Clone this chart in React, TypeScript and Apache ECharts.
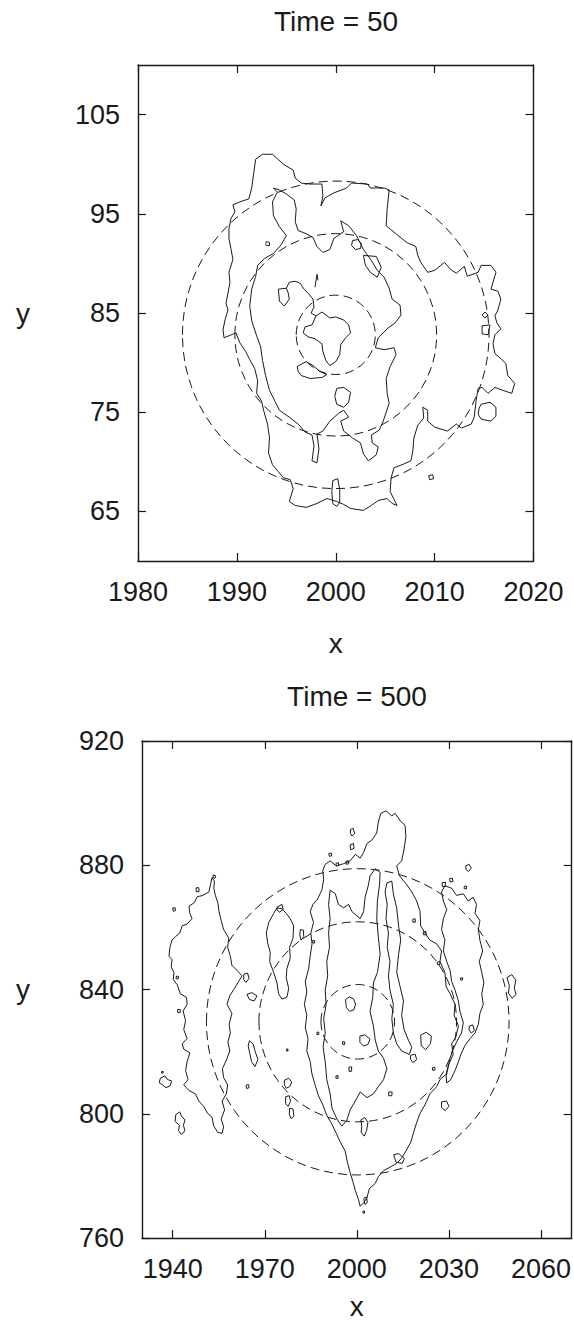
import React, { useEffect, useRef } from "react";
import * as echarts from "echarts";

const FONT = "'Liberation Sans', Arial, Helvetica, sans-serif";
const INK = "#1a1a1a";

// ---------- Panel 1: Time = 50 ----------
const T50_TITLE = "Time = 50";
const T50_X_TICKS = [1980, 1990, 2000, 2010, 2020];
const T50_Y_TICKS = [65, 75, 85, 95, 105];
// circles: [centre x, centre y, radius]
const T50_CIRCLES = [
  [2000, 82.8, 4.0],
  [2000, 82.8, 10.2],
  [2000, 82.8, 15.5],
];
// contours as flat lists x1,y1,x2,y2,...
const T50_OUTER = [
  1989.6,95.9, 1989.8,95.2, 1989.4,94.5, 1989.2,93.5, 1989.2,92.5, 1989.4,91.5, 1989.6,90.4, 1989.2,89.1,
  1989.3,88.1, 1989.1,87.0, 1988.9,86.0, 1989.1,85.3, 1988.8,84.3, 1988.6,83.3, 1988.7,82.5, 1989.2,82.7,
  1989.9,83.0, 1990.3,82.0, 1990.9,81.1, 1991.3,80.3, 1991.8,79.4, 1992.1,78.2, 1992.0,76.9, 1992.5,76.1,
  1992.7,75.2, 1993.1,73.8, 1993.3,72.4, 1993.2,70.9, 1993.6,69.7, 1994.2,69.0, 1994.7,68.4, 1995.4,68.2,
  1995.7,67.3, 1995.3,66.0, 1995.9,65.6, 1997.0,65.4, 1998.1,65.8, 1999.1,66.3, 2000.1,66.0, 2000.8,65.7,
  2001.5,65.3, 2002.8,65.1, 2003.6,65.6, 2004.3,66.1, 2005.2,66.3, 2005.7,65.8, 2006.2,65.6, 2005.9,66.2,
  2005.5,67.0, 2005.6,68.4, 2005.9,69.4, 2006.7,69.7, 2007.6,70.1, 2007.8,71.1, 2007.9,72.4, 2008.3,73.7,
  2008.9,74.4, 2008.8,75.5, 2009.3,75.2, 2009.3,74.1, 2010.0,73.5, 2011.3,73.1, 2012.2,73.8, 2012.7,73.4,
  2013.7,73.8, 2014.0,74.5, 2014.2,76.2, 2014.4,77.4, 2014.8,77.5, 2015.4,76.9, 2016.1,77.5, 2016.9,77.2,
  2017.8,76.9, 2018.1,77.9, 2017.4,78.7, 2017.2,79.9, 2016.7,80.4, 2016.1,80.9, 2015.9,81.9, 2016.1,82.8,
  2016.7,83.4, 2016.3,84.0, 2016.1,84.7, 2016.4,85.3, 2016.7,86.4, 2016.4,87.2, 2015.7,87.4, 2015.9,88.1,
  2016.2,89.1, 2015.7,89.8, 2014.7,89.8, 2014.4,89.1, 2013.3,88.7, 2013.0,89.7, 2012.2,89.0, 2011.6,89.4,
  2011.0,90.1, 2010.0,89.3, 2009.3,89.1, 2008.6,90.1, 2008.3,90.8, 2008.1,91.7, 2007.2,92.1, 2006.2,92.9,
  2005.1,93.8, 2005.2,95.5, 2005.4,97.4, 2004.9,97.6, 2003.5,97.6, 2003.2,98.0, 2001.6,98.1, 2001.1,97.6,
  1999.8,97.1, 1998.9,96.6, 1998.5,95.8, 1998.7,96.8, 1998.6,98.0, 1997.4,98.0, 1996.5,98.1, 1995.9,98.6,
  1995.7,99.4, 1994.7,100.0, 1993.6,101.0, 1992.6,101.0, 1991.9,100.5, 1991.7,99.1, 1991.5,97.6, 1991.2,96.5,
  1990.3,96.2, 1989.6,95.9,
];
const T50_MIDDLE = [
  1993.7,97.6, 1994.1,97.2, 1993.6,96.2, 1993.7,94.8, 1994.3,93.7, 1995.0,92.8, 1994.5,91.9, 1993.7,91.0,
  1992.8,90.5, 1992.1,89.8, 1991.9,88.7, 1991.5,87.4, 1991.3,85.7, 1991.5,84.2, 1992.0,82.7, 1992.4,81.6,
  1992.6,80.2, 1992.9,78.7, 1993.3,77.2, 1993.8,76.2, 1994.3,75.2, 1995.3,74.5, 1996.2,73.8, 1996.9,73.0,
  1997.6,72.7, 1997.8,71.6, 1997.6,70.1, 1998.1,69.9, 1998.3,71.3, 1998.1,72.8, 1998.7,73.1, 1999.4,74.1,
  2000.3,74.9, 2000.8,75.2, 2001.3,74.5, 2000.5,74.1, 2000.8,73.1, 2001.7,72.4, 2002.5,71.9, 2002.8,70.8,
  2003.3,70.1, 2004.1,70.7, 2004.3,71.5, 2003.7,71.9, 2003.6,72.7, 2004.4,73.2, 2004.8,74.1, 2005.1,75.0,
  2005.4,75.9, 2005.2,76.9, 2005.1,78.4, 2005.5,79.6, 2006.1,80.8, 2005.9,81.5, 2004.9,81.3, 2004.0,81.5,
  2004.3,82.5, 2005.3,83.5, 2006.0,84.0, 2006.6,84.8, 2006.5,85.8, 2005.7,86.4, 2005.4,87.5, 2004.9,88.6,
  2004.2,89.3, 2003.6,90.3, 2002.8,91.4, 2002.1,92.8, 2001.3,93.8, 2000.5,94.3, 2000.8,93.2, 1999.8,92.5,
  1999.4,91.4, 1998.7,91.1, 1998.1,91.7, 1997.7,92.6, 1997.0,93.0, 1996.2,93.3, 1995.9,94.2, 1996.0,95.5,
  1995.8,96.4, 1995.0,97.0, 1994.3,97.4, 1993.7,97.6,
];
const T50_INNER = [
  1996.9,83.6, 1997.6,83.8, 1998.0,84.7, 1998.6,85.1, 1999.4,84.5, 2000.0,84.6, 2000.8,84.3, 2001.3,83.8,
  2001.5,83.0, 2001.0,82.5, 2000.5,81.8, 2000.4,80.8, 2000.0,80.1, 1999.4,79.7, 1999.0,80.2, 1998.7,81.1,
  1998.6,81.9, 1997.9,82.4, 1997.2,82.6, 1996.7,83.0, 1996.9,83.6,
];
const T50_INNER_ARM = [
  1995.0,87.5, 1994.2,87.4, 1994.3,86.2, 1994.8,85.7, 1995.3,86.4, 1995.2,87.0, 1995.0,87.5, 1995.3,88.1,
  1995.9,88.2, 1996.4,88.0, 1996.8,87.4, 1997.2,87.0, 1997.7,86.4, 1997.8,85.6, 1997.5,85.0, 1998.0,84.7,
];
const T50_SPIKE = [1997.9,87.6, 1998.1,88.9, 1998.2,88.3];
const T50_ISLANDS = [
  [1992.9,92.0, 1993.0,92.2, 1993.3,92.1, 1993.3,91.8, 1993.0,91.8, 1992.9,92.0],
  [2001.6,91.8, 2001.7,92.3, 2002.2,92.4, 2002.6,92.0, 2002.5,91.5, 2002.0,91.4, 2001.6,91.8],
  [2002.8,90.8, 2004.1,90.7, 2004.6,89.6, 2004.2,88.6, 2003.5,89.1, 2003.0,89.8, 2002.8,90.8],
  [2014.8,84.8, 2015.1,85.1, 2015.4,84.8, 2015.1,84.5, 2014.8,84.8],
  [2014.8,83.7, 2015.6,83.8, 2015.4,82.8, 2014.8,82.9, 2014.8,83.7],
  [2014.7,75.8, 2015.6,76.0, 2016.2,75.5, 2016.2,74.6, 2015.7,74.1, 2014.7,74.3, 2014.4,74.8, 2014.5,75.4, 2014.7,75.8],
  [2009.4,68.6, 2009.8,68.7, 2009.9,68.3, 2009.5,68.2, 2009.4,68.6],
  [1999.7,68.1, 2000.2,68.3, 2000.4,67.2, 2000.4,65.9, 2000.1,65.5, 1999.7,65.8, 1999.6,67.0, 1999.7,68.1],
  [1996.1,79.6, 1997.0,80.1, 1997.7,79.7, 1998.4,79.1, 1999.1,78.8, 1998.6,78.5, 1997.4,78.4, 1996.5,78.7, 1996.2,79.1, 1996.1,79.6],
  [2000.1,77.4, 2000.8,77.5, 2001.5,77.0, 2001.3,76.0, 2000.8,75.5, 2000.1,75.8, 1999.9,76.6, 2000.1,77.4],
];

// ---------- Panel 2: Time = 500 ----------
const T500_TITLE = "Time = 500";
const T500_X_TICKS = [1940, 1970, 2000, 2030, 2060];
const T500_Y_TICKS = [760, 800, 840, 880, 920];
const T500_CIRCLES = [
  [2000.3, 829.6, 12.0],
  [2000.3, 829.6, 32.2],
  [2000.3, 829.6, 49.3],
];
const T500_LEFT_FINGER = [
  1952.8,876.0, 1952.3,873.7, 1951.8,871.4, 1949.6,870.2, 1948.0,869.9, 1947.1,868.0, 1945.3,866.8, 1945.6,864.5,
  1946.3,862.8, 1944.7,861.1, 1943.1,860.5, 1942.3,858.2, 1940.9,857.0, 1939.8,855.9, 1939.1,853.6, 1938.8,850.7,
  1939.8,849.6, 1939.5,847.3, 1940.4,845.5, 1940.2,843.2, 1941.5,841.5, 1942.5,838.6, 1944.5,837.5, 1944.7,835.2,
  1943.4,833.1, 1944.2,830.0, 1943.6,827.1, 1944.7,824.2, 1943.1,822.5, 1943.6,820.8, 1945.6,819.6, 1944.7,816.8,
  1944.2,813.9, 1945.0,811.0, 1943.6,809.3, 1945.3,807.5, 1947.4,806.4, 1948.5,804.1, 1950.1,802.4, 1951.4,800.1,
  1952.8,798.9, 1953.4,796.0, 1954.7,794.0, 1956.1,793.7, 1956.6,795.8, 1955.8,798.3, 1956.9,801.2, 1956.1,804.1,
  1957.5,806.4, 1957.9,809.3, 1956.6,811.6, 1956.2,814.5, 1957.5,817.3, 1958.6,820.2, 1958.0,823.1, 1958.8,826.0,
  1958.4,828.8, 1959.3,832.3, 1957.7,835.2, 1958.6,838.0, 1960.1,840.3, 1961.5,842.6, 1962.6,844.4, 1961.0,846.1,
  1959.3,847.8, 1958.8,850.7, 1957.9,853.6, 1958.3,856.5, 1956.6,859.3, 1955.8,862.2, 1955.1,865.1, 1954.7,868.0,
  1953.9,870.3, 1953.4,872.6, 1953.6,874.9, 1952.8,876.0,
];
const T500_SECOND_FINGER = [
  1974.0,866.3, 1972.9,864.5, 1971.3,861.6, 1970.5,858.2, 1971.0,854.7, 1971.8,851.9, 1971.6,849.0, 1972.9,845.5,
  1974.0,842.1, 1974.5,838.6, 1975.6,836.9, 1977.2,837.5, 1977.8,840.3, 1977.0,843.8, 1977.2,846.7, 1978.3,850.1,
  1978.1,853.6, 1979.2,856.5, 1979.4,860.5, 1978.3,862.8, 1977.0,864.5, 1975.6,866.0, 1974.0,866.3,
];
const T500_CENTRAL = [
  1989.7,880.3, 1991.3,881.4, 1993.3,879.8, 1995.7,880.5, 1997.8,881.4, 1999.5,883.5, 2001.1,882.3, 2002.2,884.1,
  2003.3,887.0, 2004.9,888.1, 2006.5,890.4, 2007.0,893.9, 2007.8,896.7, 2009.5,897.5, 2011.4,895.9, 2012.5,896.7,
  2014.3,894.1, 2015.7,892.9, 2016.0,889.3, 2015.4,885.2, 2014.6,881.4, 2013.0,879.8, 2013.9,876.6, 2016.3,873.7,
  2017.9,871.4, 2019.5,868.5, 2020.6,865.1, 2020.8,860.5, 2022.2,858.2, 2023.8,855.9, 2026.0,854.7, 2027.6,852.4,
  2027.1,849.0, 2028.7,845.5, 2029.1,840.9, 2030.4,838.6, 2032.0,835.2, 2031.7,831.7, 2033.1,828.3, 2032.3,824.8,
  2030.9,822.5, 2031.4,819.1, 2029.8,815.6, 2029.1,812.7, 2027.1,811.0, 2026.0,808.7, 2023.8,806.4, 2022.2,802.9,
  2020.6,800.1, 2019.5,797.2, 2018.4,793.7, 2017.6,790.9, 2016.0,788.0, 2014.6,785.7, 2013.0,784.0, 2010.8,782.8,
  2008.7,781.7, 2007.0,779.7, 2006.0,777.6, 2004.1,775.9, 2003.3,773.0, 2002.2,771.3, 2001.1,770.2, 2000.5,772.5,
  1999.5,775.3, 1998.7,778.2, 1997.8,781.1, 1996.9,784.5, 1996.2,788.0, 1994.6,790.9, 1993.3,793.7, 1991.9,796.6,
  1990.2,799.5, 1988.9,802.9, 1987.5,805.8, 1986.4,809.3, 1985.4,812.7, 1984.8,816.8, 1983.7,820.2, 1984.1,824.2,
  1983.2,827.7, 1983.7,831.7, 1982.9,835.2, 1983.7,839.2, 1983.2,842.6, 1984.3,846.7, 1984.8,850.7, 1985.4,854.7,
  1985.0,858.2, 1985.9,861.6, 1984.8,865.1, 1985.7,867.4, 1987.2,869.1, 1988.6,872.0, 1989.2,875.4, 1988.9,878.3,
  1989.7,880.3,
];
const T500_INNER_BAND = [
  1991.3,872.0, 1993.0,870.8, 1994.0,867.4, 1995.7,866.3, 1997.3,867.4, 1998.4,865.1, 2001.1,862.8, 2002.2,865.1,
  2002.7,869.7, 2003.8,873.7, 2004.3,876.6, 2006.0,878.9, 2007.6,877.7, 2007.4,873.7, 2006.7,868.5, 2006.5,862.8,
  2007.0,857.0, 2007.6,851.3, 2006.7,845.5, 2005.4,842.1, 2005.2,837.5, 2004.3,832.9, 2005.4,828.3, 2006.0,823.7,
  2007.0,820.2, 2008.7,817.9, 2009.8,814.5, 2008.7,811.0, 2007.0,808.7, 2005.4,806.4, 2003.3,805.2, 2001.1,807.0,
  1999.5,804.1, 1997.8,801.2, 1996.7,797.8, 1995.1,796.0, 1993.5,798.3, 1991.9,801.8, 1991.3,806.4, 1990.2,811.0,
  1989.7,816.8, 1989.0,821.4, 1989.7,826.0, 1989.2,830.6, 1990.0,835.2, 1989.7,839.8, 1990.5,844.4, 1990.2,849.0,
  1991.1,853.6, 1990.8,858.2, 1991.3,862.8, 1990.8,867.4, 1991.3,872.0,
];
const T500_SIDE_BAND = [
  2009.8,874.3, 2011.4,874.9, 2011.9,870.8, 2013.0,866.2, 2013.6,860.5, 2014.3,855.9, 2013.6,851.3, 2013.0,845.5,
  2014.1,840.9, 2015.2,836.3, 2014.6,831.7, 2015.4,827.1, 2016.8,823.7, 2017.9,821.4, 2017.1,819.1, 2014.6,820.2,
  2013.0,822.5, 2011.9,826.0, 2011.4,830.6, 2011.9,835.2, 2010.8,839.8, 2010.3,844.4, 2010.8,849.0, 2009.9,853.6,
  2010.3,858.2, 2009.5,862.8, 2009.9,867.4, 2009.2,871.4, 2009.8,874.3,
];
const T500_RIGHT_FINGER = [
  2027.6,871.4, 2028.7,873.4, 2030.9,872.6, 2032.5,870.3, 2034.7,870.8, 2036.3,868.5, 2037.9,869.7, 2039.0,867.4,
  2038.5,864.5, 2040.1,862.2, 2039.6,859.3, 2040.1,855.9, 2041.0,852.4, 2039.9,849.0, 2040.7,845.5, 2041.4,842.1,
  2040.7,838.6, 2041.2,835.2, 2040.1,832.3, 2039.6,828.8, 2038.5,826.0, 2036.9,824.2, 2035.2,821.9, 2034.1,819.6,
  2033.1,816.8, 2032.0,813.9, 2030.6,811.0, 2029.3,809.9, 2029.1,812.2, 2029.8,815.0, 2030.4,817.9, 2031.4,820.8,
  2032.5,823.1, 2034.1,826.0, 2034.7,829.4, 2033.6,832.9, 2033.1,836.3, 2032.0,839.8, 2030.9,842.6, 2030.4,846.1,
  2029.3,849.0, 2028.2,852.4, 2028.7,855.9, 2027.6,859.3, 2028.2,862.8, 2029.3,865.7, 2028.2,868.5, 2027.6,871.4,
];
const T500_ISLANDS = [
  [1940.0,866.2, 1940.8,866.3, 1940.9,865.4, 1940.2,865.2, 1940.0,866.2],
  [1941.2,844.3, 1941.9,844.2, 1941.8,843.4, 1941.1,843.5, 1941.2,844.3],
  [1941.6,833.6, 1942.5,833.5, 1942.4,832.5, 1941.6,832.7, 1941.6,833.6],
  [1936.0,811.5, 1937.5,812.2, 1938.3,811.0, 1939.6,810.6, 1939.2,809.0, 1937.8,808.4, 1936.8,809.2, 1935.6,810.0, 1936.0,811.5],
  [1936.4,813.6, 1936.9,813.6, 1936.9,813.1, 1936.4,813.1, 1936.4,813.6],
  [1941.0,799.7, 1942.3,800.6, 1942.9,799.2, 1944.0,798.0, 1943.5,796.3, 1944.0,794.5, 1942.8,793.3, 1941.9,794.6, 1942.2,796.3, 1940.8,797.5, 1941.0,799.7],
  [1947.6,872.7, 1948.5,872.8, 1948.6,871.6, 1947.7,871.4, 1947.6,872.7],
  [1953.2,876.9, 1954.0,876.6, 1953.8,875.8, 1953.1,876.0, 1953.2,876.9],
  [1963.2,844.9, 1964.4,845.3, 1964.9,843.5, 1963.8,842.3, 1963.1,843.3, 1963.2,844.9],
  [1964.2,838.4, 1965.8,839.0, 1967.5,837.9, 1966.5,836.3, 1965.0,836.8, 1964.2,838.4],
  [1963.9,809.2, 1964.7,809.4, 1964.9,808.4, 1964.1,808.1, 1963.9,809.2],
  [1965.0,823.5, 1966.2,822.5, 1966.9,820.0, 1967.8,817.5, 1966.8,815.2, 1965.7,816.8, 1965.1,819.5, 1964.6,821.8, 1965.0,823.5],
  [1974.0,866.5, 1975.6,867.4, 1976.0,865.8, 1974.8,864.9, 1974.0,865.6, 1974.0,866.5],
  [1976.4,810.8, 1977.8,811.4, 1978.8,810.2, 1978.2,808.8, 1977.0,808.2, 1976.4,809.3, 1976.4,810.8],
  [1976.8,805.5, 1978.0,805.8, 1978.4,804.0, 1977.6,802.4, 1976.8,803.2, 1976.8,805.5],
  [1978.1,801.8, 1979.2,801.5, 1979.5,799.2, 1978.6,798.4, 1978.0,799.8, 1978.1,801.8],
  [1977.1,820.8, 1977.5,820.9, 1977.6,820.2, 1977.1,820.2, 1977.1,820.8],
  [1996.3,836.8, 1997.6,837.6, 1998.9,837.0, 1999.6,835.3, 1999.0,833.4, 1997.6,833.0, 1996.6,834.2, 1996.3,836.8],
  [1995.4,823.2, 1996.1,823.1, 1996.0,822.2, 1995.3,822.4, 1995.4,823.2],
  [1997.4,815.0, 1998.3,815.1, 1998.3,813.7, 1997.5,813.6, 1997.4,815.0],
  [2001.0,825.0, 2002.6,825.4, 2004.3,824.0, 2003.6,822.3, 2002.2,821.8, 2001.0,823.0, 2001.0,825.0],
  [2020.8,825.3, 2022.6,826.2, 2024.3,825.0, 2024.0,822.6, 2022.4,820.6, 2021.0,821.9, 2020.8,825.3],
  [2017.5,818.8, 2019.0,819.2, 2019.5,817.4, 2018.2,816.5, 2017.5,817.6, 2017.5,818.8],
  [2010.4,807.0, 2011.5,807.0, 2011.4,805.8, 2010.4,805.8, 2010.4,807.0],
  [2027.6,803.8, 2029.2,804.1, 2030.0,802.4, 2028.8,801.0, 2027.6,802.0, 2027.6,803.8],
  [2012.0,786.8, 2013.6,787.2, 2015.5,785.6, 2014.8,784.0, 2012.8,784.4, 2012.0,786.8],
  [2035.5,879.8, 2036.6,880.3, 2037.3,879.1, 2036.4,878.0, 2035.6,878.6, 2035.5,879.8],
  [2048.9,843.8, 2050.5,844.8, 2051.8,843.0, 2051.3,840.4, 2051.9,838.4, 2050.6,837.2, 2049.4,838.8, 2049.7,841.3, 2048.9,843.8],
  [1997.9,891.5, 1998.8,891.9, 1999.3,890.2, 1998.4,889.4, 1997.9,890.3, 1997.9,891.5],
  [1997.8,886.6, 1998.9,887.0, 1999.1,885.4, 1998.0,885.0, 1997.8,886.6],
  [1990.9,883.8, 1991.7,883.9, 1991.8,883.0, 1991.0,882.9, 1990.9,883.8],
  [2001.3,798.0, 2002.6,798.8, 2003.6,797.2, 2003.2,794.6, 2002.4,792.8, 2001.4,794.0, 2001.6,796.0, 2001.3,798.0],
  [2002.3,772.8, 2003.2,773.2, 2003.4,771.4, 2002.6,770.8, 2002.3,772.8],
  [2002.0,768.6, 2002.5,768.7, 2002.5,768.0, 2002.0,768.0, 2002.0,768.6],
  [2027.8,874.4, 2028.9,874.5, 2028.8,873.2, 2027.9,873.1, 2027.8,874.4],
  [2035.0,873.2, 2035.8,873.3, 2035.7,872.4, 2035.0,872.5, 2035.0,873.2],
  [2033.8,843.7, 2034.5,843.8, 2034.4,843.0, 2033.8,843.1, 2033.8,843.7],
  [1981.6,859.3, 1982.6,859.1, 1982.7,857.0, 1981.8,855.9, 1981.4,857.6, 1981.6,859.3],
  [1985.6,855.8, 1986.3,855.7, 1986.2,854.9, 1985.6,855.0, 1985.6,855.8],
  [1993.2,880.6, 1994.0,880.8, 1994.1,879.9, 1993.3,879.8, 1993.2,880.6],
  [1996.4,881.2, 1997.2,881.5, 1997.4,880.5, 1996.6,880.3, 1996.4,881.2],
  [2018.2,862.6, 2019.0,862.8, 2019.1,861.7, 2018.3,861.6, 2018.2,862.6],
  [2021.6,858.5, 2022.5,858.7, 2022.6,857.6, 2021.7,857.6, 2021.6,858.5],
  [2026.2,848.8, 2027.0,849.0, 2027.1,848.1, 2026.3,848.0, 2026.2,848.8],
  [2030.2,875.6, 2031.1,875.9, 2031.3,874.8, 2030.4,874.6, 2030.2,875.6],
  [2036.6,828.2, 2037.8,828.6, 2038.3,826.8, 2037.3,826.0, 2036.6,827.0, 2036.6,828.2],
  [2024.6,814.8, 2025.4,815.0, 2025.5,814.1, 2024.7,814.0, 2024.6,814.8],
  [1987.0,826.2, 1987.6,826.3, 1987.6,825.5, 1987.0,825.5, 1987.0,826.2],
  [1993.2,812.2, 1993.9,812.3, 1993.9,811.4, 1993.2,811.4, 1993.2,812.2],
];

const T50_CONTOURS = [T50_OUTER, T50_MIDDLE, T50_INNER, T50_INNER_ARM, T50_SPIKE, ...T50_ISLANDS];
const T500_CONTOURS = [
  T500_LEFT_FINGER, T500_SECOND_FINGER, T500_CENTRAL, T500_INNER_BAND, T500_SIDE_BAND, T500_RIGHT_FINGER,
  ...T500_ISLANDS,
];

function toPairs(flat: number[]): number[][] {
  const out: number[][] = [];
  for (let i = 0; i + 1 < flat.length; i += 2) out.push([flat[i], flat[i + 1]]);
  return out;
}

function contourSeries(flat: number[], panel: number) {
  return {
    type: "line",
    xAxisIndex: panel * 2,
    yAxisIndex: panel * 2,
    data: toPairs(flat),
    symbol: "none",
    showSymbol: false,
    silent: true,
    lineStyle: { color: INK, width: 1 },
    z: 3,
  };
}

function circleSeries(circles: number[][], panel: number) {
  return {
    type: "custom",
    xAxisIndex: panel * 2,
    yAxisIndex: panel * 2,
    data: circles,
    silent: true,
    z: 2,
    encode: { x: 0, y: 1 },
    renderItem: (_params: any, api: any) => {
      const c = api.coord([api.value(0), api.value(1)]);
      const s = api.size([api.value(2), api.value(2)]);
      return {
        type: "ellipse",
        shape: { cx: c[0], cy: c[1], rx: s[0], ry: s[1] },
        style: { fill: "none", stroke: INK, lineWidth: 1, lineDash: [9, 5] },
      };
    },
  };
}

const plain = (v: number) => String(v);
const labelStyle = { color: INK, fontSize: 27, fontFamily: FONT };
const axisLine = { show: true, onZero: false, lineStyle: { color: INK, width: 1.4 } };
const tickStyle = { color: INK, width: 1.2 };

function xAxes(gridIndex: number, min: number, max: number, ticks: number[], gap: number) {
  return [
    {
      type: "value", gridIndex, position: "bottom", min, max,
      name: "x", nameLocation: "middle", nameGap: gap,
      nameTextStyle: { ...labelStyle, fontSize: 28 },
      axisLine,
      axisTick: { show: true, inside: true, length: 8, lineStyle: tickStyle, customValues: ticks },
      axisLabel: { ...labelStyle, margin: 17, customValues: ticks, formatter: plain },
      splitLine: { show: false },
    },
    {
      type: "value", gridIndex, position: "top", min, max,
      axisLine,
      axisTick: { show: true, inside: true, length: 8, lineStyle: tickStyle, customValues: ticks },
      axisLabel: { show: false },
      splitLine: { show: false },
    },
  ];
}

function yAxes(gridIndex: number, min: number, max: number, ticks: number[], gap: number) {
  return [
    {
      type: "value", gridIndex, position: "left", min, max,
      name: "y", nameLocation: "middle", nameGap: gap, nameRotate: 0,
      nameTextStyle: { ...labelStyle, fontSize: 28 },
      axisLine,
      axisTick: { show: true, inside: true, length: 8, lineStyle: tickStyle, customValues: ticks },
      axisLabel: { ...labelStyle, margin: 18, customValues: ticks, formatter: plain },
      splitLine: { show: false },
    },
    {
      type: "value", gridIndex, position: "right", min, max,
      axisLine,
      axisTick: { show: true, inside: true, length: 8, lineStyle: tickStyle, customValues: ticks },
      axisLabel: { show: false },
      splitLine: { show: false },
    },
  ];
}

export default function App() {
  const ref = useRef<HTMLDivElement>(null);
  useEffect(() => {
    document.body.style.margin = "0";
    if (!ref.current) return;
    const chart = echarts.init(ref.current, null, { renderer: "svg" });
    const option: any = {
      animation: false,
      backgroundColor: "#ffffff",
      title: [
        {
          text: T50_TITLE, left: 336, top: 7, padding: 0, textAlign: "center",
          textStyle: { ...labelStyle, fontSize: 28, fontWeight: "normal" },
        },
        {
          text: T500_TITLE, left: 357, top: 682, padding: 0, textAlign: "center",
          textStyle: { ...labelStyle, fontSize: 28, fontWeight: "normal" },
        },
      ],
      grid: [
        { left: 138, top: 65, width: 395.5, height: 496, show: false },
        { left: 142, top: 741, width: 430, height: 497, show: false },
      ],
      xAxis: [
        ...xAxes(0, 1980, 2020, T50_X_TICKS, 68),
        ...xAxes(1, 1930, 2070, T500_X_TICKS, 54),
      ],
      yAxis: [
        ...yAxes(0, 60, 110, T50_Y_TICKS, 108),
        ...yAxes(1, 760, 920, T500_Y_TICKS, 112),
      ],
      series: [
        circleSeries(T50_CIRCLES, 0),
        ...T50_CONTOURS.map((c) => contourSeries(c, 0)),
        circleSeries(T500_CIRCLES, 1),
        ...T500_CONTOURS.map((c) => contourSeries(c, 1)),
      ],
    };
    chart.setOption(option);
    return () => chart.dispose();
  }, []);
  return <div ref={ref} style={{ width: 574, height: 1326 }} />;
}
